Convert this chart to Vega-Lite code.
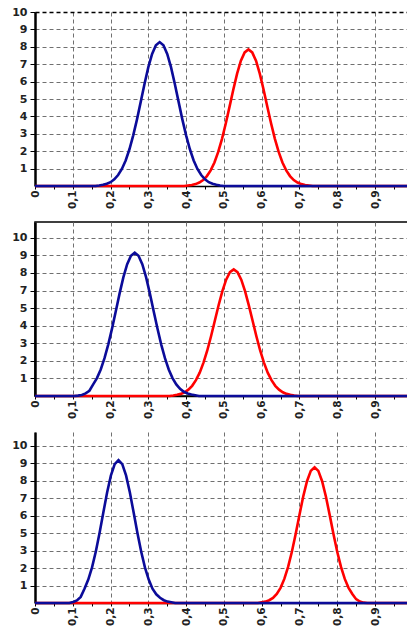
{
  "$schema": "https://vega.github.io/schema/vega-lite/v6.json",
  "description": "Three stacked panels, each with a blue and a red bell-shaped curve on a 0-1 axis.",
  "padding": {"left": 10, "top": 6, "right": 0, "bottom": 0},
  "background": "white",
  "datasets": {
    "pts": [
      {"panel": 1, "series": "red", "x": 0, "y": 0},
      {"panel": 1, "series": "red", "x": 0.395, "y": 0},
      {"panel": 1, "series": "red", "x": 0.405, "y": 0.03},
      {"panel": 1, "series": "red", "x": 0.415, "y": 0.06},
      {"panel": 1, "series": "red", "x": 0.425, "y": 0.11},
      {"panel": 1, "series": "red", "x": 0.435, "y": 0.2},
      {"panel": 1, "series": "red", "x": 0.445, "y": 0.34},
      {"panel": 1, "series": "red", "x": 0.455, "y": 0.57},
      {"panel": 1, "series": "red", "x": 0.465, "y": 0.9},
      {"panel": 1, "series": "red", "x": 0.475, "y": 1.35},
      {"panel": 1, "series": "red", "x": 0.485, "y": 1.96},
      {"panel": 1, "series": "red", "x": 0.495, "y": 2.71},
      {"panel": 1, "series": "red", "x": 0.505, "y": 3.59},
      {"panel": 1, "series": "red", "x": 0.515, "y": 4.56},
      {"panel": 1, "series": "red", "x": 0.525, "y": 5.55},
      {"panel": 1, "series": "red", "x": 0.535, "y": 6.46},
      {"panel": 1, "series": "red", "x": 0.545, "y": 7.2},
      {"panel": 1, "series": "red", "x": 0.555, "y": 7.68},
      {"panel": 1, "series": "red", "x": 0.565, "y": 7.85},
      {"panel": 1, "series": "red", "x": 0.575, "y": 7.68},
      {"panel": 1, "series": "red", "x": 0.585, "y": 7.2},
      {"panel": 1, "series": "red", "x": 0.595, "y": 6.46},
      {"panel": 1, "series": "red", "x": 0.605, "y": 5.55},
      {"panel": 1, "series": "red", "x": 0.615, "y": 4.56},
      {"panel": 1, "series": "red", "x": 0.625, "y": 3.59},
      {"panel": 1, "series": "red", "x": 0.635, "y": 2.71},
      {"panel": 1, "series": "red", "x": 0.645, "y": 1.96},
      {"panel": 1, "series": "red", "x": 0.655, "y": 1.35},
      {"panel": 1, "series": "red", "x": 0.665, "y": 0.9},
      {"panel": 1, "series": "red", "x": 0.675, "y": 0.57},
      {"panel": 1, "series": "red", "x": 0.685, "y": 0.34},
      {"panel": 1, "series": "red", "x": 0.695, "y": 0.2},
      {"panel": 1, "series": "red", "x": 0.705, "y": 0.11},
      {"panel": 1, "series": "red", "x": 0.715, "y": 0.06},
      {"panel": 1, "series": "red", "x": 0.725, "y": 0.03},
      {"panel": 1, "series": "red", "x": 0.735, "y": 0},
      {"panel": 1, "series": "red", "x": 1, "y": 0},

      {"panel": 2, "series": "red", "x": 0, "y": 0},
      {"panel": 2, "series": "red", "x": 0.356, "y": 0},
      {"panel": 2, "series": "red", "x": 0.366, "y": 0.03},
      {"panel": 2, "series": "red", "x": 0.376, "y": 0.07},
      {"panel": 2, "series": "red", "x": 0.386, "y": 0.12},
      {"panel": 2, "series": "red", "x": 0.396, "y": 0.21},
      {"panel": 2, "series": "red", "x": 0.406, "y": 0.36},
      {"panel": 2, "series": "red", "x": 0.416, "y": 0.58},
      {"panel": 2, "series": "red", "x": 0.426, "y": 0.9},
      {"panel": 2, "series": "red", "x": 0.436, "y": 1.33},
      {"panel": 2, "series": "red", "x": 0.446, "y": 1.9},
      {"panel": 2, "series": "red", "x": 0.456, "y": 2.59},
      {"panel": 2, "series": "red", "x": 0.466, "y": 3.4},
      {"panel": 2, "series": "red", "x": 0.476, "y": 4.28},
      {"panel": 2, "series": "red", "x": 0.486, "y": 5.16},
      {"panel": 2, "series": "red", "x": 0.496, "y": 5.97},
      {"panel": 2, "series": "red", "x": 0.506, "y": 6.62},
      {"panel": 2, "series": "red", "x": 0.516, "y": 7.05},
      {"panel": 2, "series": "red", "x": 0.526, "y": 7.2},
      {"panel": 2, "series": "red", "x": 0.536, "y": 7.05},
      {"panel": 2, "series": "red", "x": 0.546, "y": 6.62},
      {"panel": 2, "series": "red", "x": 0.556, "y": 5.97},
      {"panel": 2, "series": "red", "x": 0.566, "y": 5.16},
      {"panel": 2, "series": "red", "x": 0.576, "y": 4.28},
      {"panel": 2, "series": "red", "x": 0.586, "y": 3.4},
      {"panel": 2, "series": "red", "x": 0.596, "y": 2.59},
      {"panel": 2, "series": "red", "x": 0.606, "y": 1.9},
      {"panel": 2, "series": "red", "x": 0.616, "y": 1.33},
      {"panel": 2, "series": "red", "x": 0.626, "y": 0.9},
      {"panel": 2, "series": "red", "x": 0.636, "y": 0.58},
      {"panel": 2, "series": "red", "x": 0.646, "y": 0.36},
      {"panel": 2, "series": "red", "x": 0.656, "y": 0.21},
      {"panel": 2, "series": "red", "x": 0.666, "y": 0.12},
      {"panel": 2, "series": "red", "x": 0.676, "y": 0.07},
      {"panel": 2, "series": "red", "x": 0.686, "y": 0.03},
      {"panel": 2, "series": "red", "x": 0.696, "y": 0},
      {"panel": 2, "series": "red", "x": 1, "y": 0},

      {"panel": 3, "series": "red", "x": 0, "y": 0},
      {"panel": 3, "series": "red", "x": 0.59, "y": 0},
      {"panel": 3, "series": "red", "x": 0.6, "y": 0.04},
      {"panel": 3, "series": "red", "x": 0.61, "y": 0.08},
      {"panel": 3, "series": "red", "x": 0.62, "y": 0.16},
      {"panel": 3, "series": "red", "x": 0.63, "y": 0.29},
      {"panel": 3, "series": "red", "x": 0.64, "y": 0.52},
      {"panel": 3, "series": "red", "x": 0.65, "y": 0.87},
      {"panel": 3, "series": "red", "x": 0.66, "y": 1.38},
      {"panel": 3, "series": "red", "x": 0.67, "y": 2.07},
      {"panel": 3, "series": "red", "x": 0.68, "y": 2.94},
      {"panel": 3, "series": "red", "x": 0.69, "y": 3.96},
      {"panel": 3, "series": "red", "x": 0.7, "y": 5.05},
      {"panel": 3, "series": "red", "x": 0.71, "y": 6.1},
      {"panel": 3, "series": "red", "x": 0.72, "y": 6.98},
      {"panel": 3, "series": "red", "x": 0.73, "y": 7.57},
      {"panel": 3, "series": "red", "x": 0.74, "y": 7.78},
      {"panel": 3, "series": "red", "x": 0.75, "y": 7.57},
      {"panel": 3, "series": "red", "x": 0.76, "y": 6.98},
      {"panel": 3, "series": "red", "x": 0.77, "y": 6.1},
      {"panel": 3, "series": "red", "x": 0.78, "y": 5.05},
      {"panel": 3, "series": "red", "x": 0.79, "y": 3.96},
      {"panel": 3, "series": "red", "x": 0.8, "y": 2.94},
      {"panel": 3, "series": "red", "x": 0.81, "y": 2.07},
      {"panel": 3, "series": "red", "x": 0.82, "y": 1.38},
      {"panel": 3, "series": "red", "x": 0.83, "y": 0.87},
      {"panel": 3, "series": "red", "x": 0.84, "y": 0.52},
      {"panel": 3, "series": "red", "x": 0.85, "y": 0.22},
      {"panel": 3, "series": "red", "x": 0.86, "y": 0.08},
      {"panel": 3, "series": "red", "x": 0.87, "y": 0.02},
      {"panel": 3, "series": "red", "x": 0.88, "y": 0},
      {"panel": 3, "series": "red", "x": 1, "y": 0},

      {"panel": 1, "series": "blue", "x": 0, "y": 0},
      {"panel": 1, "series": "blue", "x": 0.16, "y": 0},
      {"panel": 1, "series": "blue", "x": 0.17, "y": 0.03},
      {"panel": 1, "series": "blue", "x": 0.18, "y": 0.07},
      {"panel": 1, "series": "blue", "x": 0.19, "y": 0.13},
      {"panel": 1, "series": "blue", "x": 0.2, "y": 0.22},
      {"panel": 1, "series": "blue", "x": 0.21, "y": 0.38},
      {"panel": 1, "series": "blue", "x": 0.22, "y": 0.63},
      {"panel": 1, "series": "blue", "x": 0.23, "y": 0.98},
      {"panel": 1, "series": "blue", "x": 0.24, "y": 1.47},
      {"panel": 1, "series": "blue", "x": 0.25, "y": 2.11},
      {"panel": 1, "series": "blue", "x": 0.26, "y": 2.91},
      {"panel": 1, "series": "blue", "x": 0.27, "y": 3.83},
      {"panel": 1, "series": "blue", "x": 0.28, "y": 4.85},
      {"panel": 1, "series": "blue", "x": 0.29, "y": 5.88},
      {"panel": 1, "series": "blue", "x": 0.3, "y": 6.83},
      {"panel": 1, "series": "blue", "x": 0.31, "y": 7.59},
      {"panel": 1, "series": "blue", "x": 0.32, "y": 8.09},
      {"panel": 1, "series": "blue", "x": 0.33, "y": 8.27},
      {"panel": 1, "series": "blue", "x": 0.34, "y": 8.09},
      {"panel": 1, "series": "blue", "x": 0.35, "y": 7.59},
      {"panel": 1, "series": "blue", "x": 0.36, "y": 6.83},
      {"panel": 1, "series": "blue", "x": 0.37, "y": 5.88},
      {"panel": 1, "series": "blue", "x": 0.38, "y": 4.85},
      {"panel": 1, "series": "blue", "x": 0.39, "y": 3.83},
      {"panel": 1, "series": "blue", "x": 0.4, "y": 2.91},
      {"panel": 1, "series": "blue", "x": 0.41, "y": 2.11},
      {"panel": 1, "series": "blue", "x": 0.42, "y": 1.47},
      {"panel": 1, "series": "blue", "x": 0.43, "y": 0.98},
      {"panel": 1, "series": "blue", "x": 0.44, "y": 0.63},
      {"panel": 1, "series": "blue", "x": 0.45, "y": 0.38},
      {"panel": 1, "series": "blue", "x": 0.46, "y": 0.22},
      {"panel": 1, "series": "blue", "x": 0.47, "y": 0.13},
      {"panel": 1, "series": "blue", "x": 0.48, "y": 0.07},
      {"panel": 1, "series": "blue", "x": 0.49, "y": 0.03},
      {"panel": 1, "series": "blue", "x": 0.5, "y": 0},
      {"panel": 1, "series": "blue", "x": 1, "y": 0},

      {"panel": 2, "series": "blue", "x": 0, "y": 0},
      {"panel": 2, "series": "blue", "x": 0.104, "y": 0},
      {"panel": 2, "series": "blue", "x": 0.114, "y": 0.02},
      {"panel": 2, "series": "blue", "x": 0.124, "y": 0.06},
      {"panel": 2, "series": "blue", "x": 0.134, "y": 0.15},
      {"panel": 2, "series": "blue", "x": 0.144, "y": 0.3},
      {"panel": 2, "series": "blue", "x": 0.154, "y": 0.66},
      {"panel": 2, "series": "blue", "x": 0.164, "y": 1.02},
      {"panel": 2, "series": "blue", "x": 0.174, "y": 1.51},
      {"panel": 2, "series": "blue", "x": 0.184, "y": 2.15},
      {"panel": 2, "series": "blue", "x": 0.194, "y": 2.94},
      {"panel": 2, "series": "blue", "x": 0.204, "y": 3.85},
      {"panel": 2, "series": "blue", "x": 0.214, "y": 4.84},
      {"panel": 2, "series": "blue", "x": 0.224, "y": 5.84},
      {"panel": 2, "series": "blue", "x": 0.234, "y": 6.76},
      {"panel": 2, "series": "blue", "x": 0.244, "y": 7.5},
      {"panel": 2, "series": "blue", "x": 0.254, "y": 7.98},
      {"panel": 2, "series": "blue", "x": 0.264, "y": 8.15},
      {"panel": 2, "series": "blue", "x": 0.274, "y": 7.98},
      {"panel": 2, "series": "blue", "x": 0.284, "y": 7.5},
      {"panel": 2, "series": "blue", "x": 0.294, "y": 6.76},
      {"panel": 2, "series": "blue", "x": 0.304, "y": 5.84},
      {"panel": 2, "series": "blue", "x": 0.314, "y": 4.84},
      {"panel": 2, "series": "blue", "x": 0.324, "y": 3.85},
      {"panel": 2, "series": "blue", "x": 0.334, "y": 2.94},
      {"panel": 2, "series": "blue", "x": 0.344, "y": 2.15},
      {"panel": 2, "series": "blue", "x": 0.354, "y": 1.51},
      {"panel": 2, "series": "blue", "x": 0.364, "y": 1.02},
      {"panel": 2, "series": "blue", "x": 0.374, "y": 0.66},
      {"panel": 2, "series": "blue", "x": 0.384, "y": 0.41},
      {"panel": 2, "series": "blue", "x": 0.394, "y": 0.24},
      {"panel": 2, "series": "blue", "x": 0.404, "y": 0.14},
      {"panel": 2, "series": "blue", "x": 0.414, "y": 0.08},
      {"panel": 2, "series": "blue", "x": 0.424, "y": 0.04},
      {"panel": 2, "series": "blue", "x": 0.434, "y": 0},
      {"panel": 2, "series": "blue", "x": 1, "y": 0},

      {"panel": 3, "series": "blue", "x": 0, "y": 0},
      {"panel": 3, "series": "blue", "x": 0.091, "y": 0},
      {"panel": 3, "series": "blue", "x": 0.101, "y": 0.06},
      {"panel": 3, "series": "blue", "x": 0.111, "y": 0.15},
      {"panel": 3, "series": "blue", "x": 0.121, "y": 0.35},
      {"panel": 3, "series": "blue", "x": 0.131, "y": 0.82},
      {"panel": 3, "series": "blue", "x": 0.141, "y": 1.34},
      {"panel": 3, "series": "blue", "x": 0.151, "y": 2.04},
      {"panel": 3, "series": "blue", "x": 0.161, "y": 2.95},
      {"panel": 3, "series": "blue", "x": 0.171, "y": 4.03},
      {"panel": 3, "series": "blue", "x": 0.181, "y": 5.2},
      {"panel": 3, "series": "blue", "x": 0.191, "y": 6.35},
      {"panel": 3, "series": "blue", "x": 0.201, "y": 7.31},
      {"panel": 3, "series": "blue", "x": 0.211, "y": 7.96},
      {"panel": 3, "series": "blue", "x": 0.221, "y": 8.19},
      {"panel": 3, "series": "blue", "x": 0.231, "y": 7.96},
      {"panel": 3, "series": "blue", "x": 0.241, "y": 7.31},
      {"panel": 3, "series": "blue", "x": 0.251, "y": 6.35},
      {"panel": 3, "series": "blue", "x": 0.261, "y": 5.2},
      {"panel": 3, "series": "blue", "x": 0.271, "y": 4.03},
      {"panel": 3, "series": "blue", "x": 0.281, "y": 2.95},
      {"panel": 3, "series": "blue", "x": 0.291, "y": 2.04},
      {"panel": 3, "series": "blue", "x": 0.301, "y": 1.34},
      {"panel": 3, "series": "blue", "x": 0.311, "y": 0.82},
      {"panel": 3, "series": "blue", "x": 0.321, "y": 0.5},
      {"panel": 3, "series": "blue", "x": 0.331, "y": 0.3},
      {"panel": 3, "series": "blue", "x": 0.341, "y": 0.16},
      {"panel": 3, "series": "blue", "x": 0.351, "y": 0.08},
      {"panel": 3, "series": "blue", "x": 0.361, "y": 0.04},
      {"panel": 3, "series": "blue", "x": 0.371, "y": 0},
      {"panel": 3, "series": "blue", "x": 1, "y": 0}
    ]
  },
  "data": {"name": "pts"},
  "vconcat": [
    {
      "width": 374,
      "height": 174,
      "transform": [{"filter": "datum.panel == 1"}],
      "mark": {"type": "line", "strokeWidth": 2.6},
      "encoding": {
        "x": {
          "field": "x", "type": "quantitative",
          "scale": {"domain": [0, 0.99], "nice": false, "zero": false},
          "axis": {
            "values": [0, 0.05, 0.1, 0.15, 0.2, 0.25, 0.3, 0.35, 0.4, 0.45, 0.5, 0.55, 0.6, 0.65, 0.7, 0.75, 0.8, 0.85, 0.9, 0.95],
            "title": null,
            "labelAngle": 270,
            "labelFlush": false,
            "labelOverlap": false,
            "labelFont": "DejaVu Sans", "labelFontWeight": "bold", "labelFontSize": 10.5, "labelColor": "#222",
            "labelExpr": "round(datum.value*20)%2==1 ? '' : replace(format(datum.value,'.1~f'),'.',',')",
            "labelPadding": 1, "tickSize": 3, "tickColor": "#000",
            "domainColor": "#000", "domainWidth": 1.5,
            "gridColor": "#707070", "gridDash": [4, 3],
            "gridOpacity": {"condition": {"test": "round(datum.value*20)%2==1", "value": 0}, "value": 1}
          }
        },
        "y": {
          "field": "y", "type": "quantitative",
          "scale": {"domain": [0, 10], "nice": false},
          "axis": {
            "values": [1, 2, 3, 4, 5, 6, 7, 8, 9, 10],
            "title": null,
            "labelOverlap": false,
            "labelFont": "DejaVu Sans", "labelFontWeight": "bold", "labelFontSize": 11, "labelColor": "#222",
            "labelPadding": 3, "tickSize": 5, "tickColor": "#000",
            "domainColor": "#000", "domainWidth": 2.5,
            "gridDash": [4, 3],
            "gridColor": {"condition": {"test": "datum.value == 10", "value": "#000"}, "value": "#707070"},
            "gridWidth": {"condition": {"test": "datum.value == 10", "value": 1.6}, "value": 1}
          }
        },
        "color": {
          "field": "series", "type": "nominal",
          "scale": {"domain": ["red", "blue"], "range": ["#ff0000", "#0b0b99"]},
          "legend": null
        }
      }
    },
    {
      "width": 374,
      "height": 174,
      "view": {"stroke": "#000", "strokeWidth": 1.5},
      "transform": [{"filter": "datum.panel == 2"}],
      "mark": {"type": "line", "strokeWidth": 2.6},
      "encoding": {
        "x": {
          "field": "x", "type": "quantitative",
          "scale": {"domain": [0, 0.99], "nice": false, "zero": false},
          "axis": {
            "values": [0, 0.05, 0.1, 0.15, 0.2, 0.25, 0.3, 0.35, 0.4, 0.45, 0.5, 0.55, 0.6, 0.65, 0.7, 0.75, 0.8, 0.85, 0.9, 0.95],
            "title": null,
            "labelAngle": 270,
            "labelFlush": false,
            "labelOverlap": false,
            "labelFont": "DejaVu Sans", "labelFontWeight": "bold", "labelFontSize": 10.5, "labelColor": "#222",
            "labelExpr": "round(datum.value*20)%2==1 ? '' : replace(format(datum.value,'.1~f'),'.',',')",
            "labelPadding": 1, "tickSize": 3, "tickColor": "#000",
            "domainColor": "#000", "domainWidth": 1.5,
            "gridColor": "#707070", "gridDash": [4, 3],
            "gridOpacity": {"condition": {"test": "round(datum.value*20)%2==1", "value": 0}, "value": 1}
          }
        },
        "y": {
          "field": "y", "type": "quantitative",
          "scale": {"domain": [0, 9.9], "nice": false},
          "axis": {
            "values": [1, 2, 3, 4, 5, 6, 7, 8, 9],
            "title": null,
            "labelOverlap": false,
            "labelExpr": "'' + (datum.value >= 6 ? datum.value + 1 : datum.value)",
            "labelFont": "DejaVu Sans", "labelFontWeight": "bold", "labelFontSize": 11, "labelColor": "#222",
            "labelPadding": 3, "tickSize": 5, "tickColor": "#000",
            "domainColor": "#000", "domainWidth": 2.5,
            "gridDash": [4, 3], "gridColor": "#707070"
          }
        },
        "color": {
          "field": "series", "type": "nominal",
          "scale": {"domain": ["red", "blue"], "range": ["#ff0000", "#0b0b99"]},
          "legend": null
        }
      }
    },
    {
      "width": 374,
      "height": 171,
      "transform": [{"filter": "datum.panel == 3"}],
      "mark": {"type": "line", "strokeWidth": 2.6},
      "encoding": {
        "x": {
          "field": "x", "type": "quantitative",
          "scale": {"domain": [0, 0.99], "nice": false, "zero": false},
          "axis": {
            "values": [0, 0.05, 0.1, 0.15, 0.2, 0.25, 0.3, 0.35, 0.4, 0.45, 0.5, 0.55, 0.6, 0.65, 0.7, 0.75, 0.8, 0.85, 0.9, 0.95],
            "title": null,
            "labelAngle": 270,
            "labelFlush": false,
            "labelOverlap": false,
            "labelFont": "DejaVu Sans", "labelFontWeight": "bold", "labelFontSize": 10.5, "labelColor": "#222",
            "labelExpr": "round(datum.value*20)%2==1 ? '' : replace(format(datum.value,'.1~f'),'.',',')",
            "labelPadding": 1, "tickSize": 3, "tickColor": "#000",
            "domainColor": "#000", "domainWidth": 1.5,
            "gridColor": "#707070", "gridDash": [4, 3],
            "gridOpacity": {"condition": {"test": "round(datum.value*20)%2==1", "value": 0}, "value": 1}
          }
        },
        "y": {
          "field": "y", "type": "quantitative",
          "scale": {"domain": [0, 9.8], "nice": false},
          "axis": {
            "values": [1, 2, 3, 4, 5, 6, 7, 8, 9],
            "title": null,
            "labelOverlap": false,
            "labelExpr": "'' + (datum.value >= 4 ? datum.value + 1 : datum.value)",
            "labelFont": "DejaVu Sans", "labelFontWeight": "bold", "labelFontSize": 11, "labelColor": "#222",
            "labelPadding": 3, "tickSize": 5, "tickColor": "#000",
            "domainColor": "#000", "domainWidth": 2.5,
            "gridDash": [4, 3], "gridColor": "#707070"
          }
        },
        "color": {
          "field": "series", "type": "nominal",
          "scale": {"domain": ["red", "blue"], "range": ["#ff0000", "#0b0b99"]},
          "legend": null
        }
      }
    }
  ],
  "spacing": 36,
  "bounds": "flush",
  "resolve": {"scale": {"x": "independent", "y": "independent"}},
  "config": {
    "view": {"stroke": null}
  }
}
